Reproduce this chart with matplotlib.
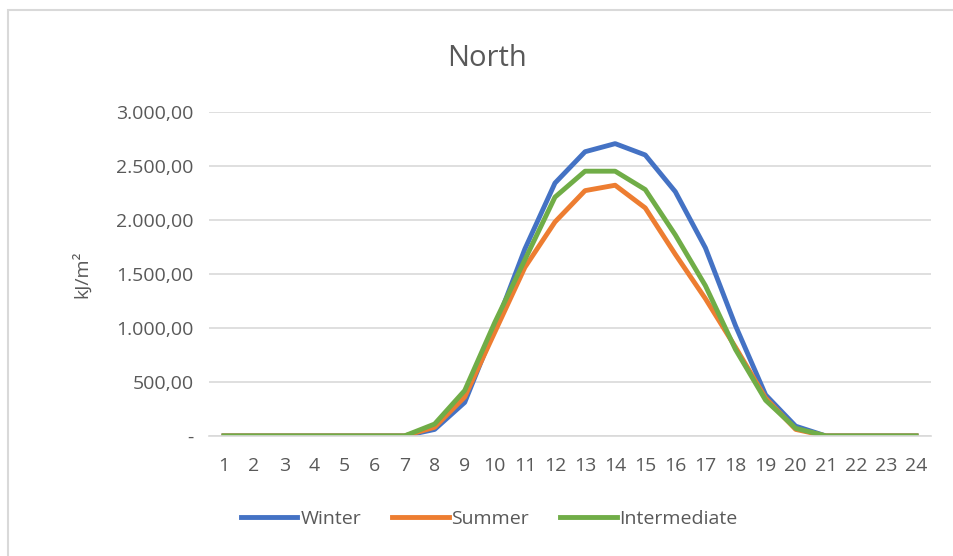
import matplotlib
matplotlib.use("Agg")
import matplotlib.pyplot as plt
from matplotlib.ticker import FuncFormatter
from matplotlib.patches import Rectangle

# hourly irradiation, north facade (kJ/m2)
hours = list(range(1, 25))
winter = [0, 0, 0, 0, 0, 0, 0, 60, 310, 1000, 1730, 2340, 2630, 2705, 2600, 2260, 1740, 1020, 380, 90, 0, 0, 0, 0]
summer = [0, 0, 0, 0, 0, 0, 0, 80, 360, 960, 1560, 1980, 2270, 2320, 2110, 1680, 1270, 820, 350, 60, 0, 0, 0, 0]
intermediate = [0, 0, 0, 0, 0, 0, 0, 110, 420, 1050, 1630, 2210, 2450, 2450, 2280, 1860, 1390, 800, 330, 70, 0, 0, 0, 0]

plt.rcParams['font.family'] = ['Open Sans', 'DejaVu Sans']
txt = '#595959'
fs = 14

fig = plt.figure(figsize=(9.54, 5.56), dpi=100)
fig.patches.append(Rectangle((0.008, -0.1), 1.1, 1.082, transform=fig.transFigure,
                             fill=False, edgecolor='#D9D9D9', linewidth=1.5))
ax = fig.add_axes([0.219, 0.216, 0.757, 0.583])

ax.plot(hours, winter, color='#4472C4', lw=3.5, label='Winter', solid_joinstyle='round')
ax.plot(hours, summer, color='#ED7D31', lw=3.5, label='Summer', solid_joinstyle='round')
ax.plot(hours, intermediate, color='#70AD47', lw=3.5, label='Intermediate', solid_joinstyle='round')

ax.set_xlim(0.5, 24.5)
ax.set_ylim(0, 3000)
ax.set_xticks(hours)
ax.set_yticks(range(0, 3001, 500))

def fmt(v, pos):
    if v == 0:
        return '-'
    return f"{v:,.2f}".replace(',', 'X').replace('.', ',').replace('X', '.')

ax.yaxis.set_major_formatter(FuncFormatter(fmt))
ax.grid(axis='y', color='#D9D9D9', lw=1.2)
ax.set_axisbelow(True)
for s in ['top', 'right', 'left']:
    ax.spines[s].set_visible(False)
ax.spines['bottom'].set_color('#D9D9D9')
ax.spines['bottom'].set_linewidth(1.2)
ax.tick_params(length=0, labelsize=fs, colors=txt)
ax.tick_params(axis='x', pad=15)
ax.tick_params(axis='y', pad=11)
ax.set_ylabel('kJ/m²', fontsize=fs, color=txt, labelpad=18)

fig.text(0.511, 0.895, 'North', ha='center', va='center', fontsize=21, color=txt)
fig.legend(loc='center', bbox_to_anchor=(0.513, 0.067), ncol=3, frameon=False,
           fontsize=fs, labelcolor=txt, handlelength=2.9, handletextpad=0.15,
           columnspacing=1.6)

fig.savefig('out.png', dpi=100)
